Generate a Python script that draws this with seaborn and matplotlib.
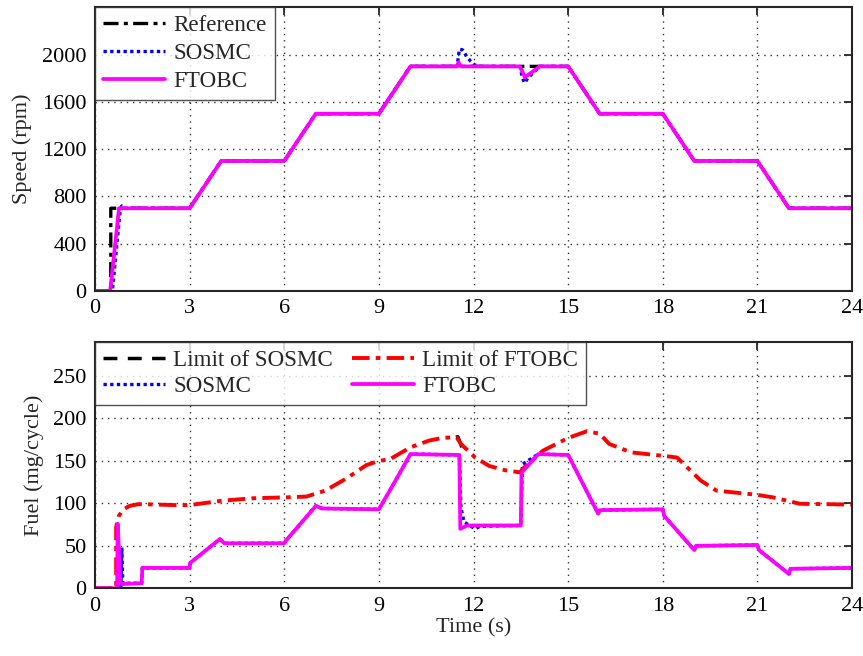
import numpy as np
import pandas as pd
import matplotlib
matplotlib.use("Agg")
import matplotlib.pyplot as plt
import seaborn as sns

# ---------------- data ----------------
ref_t = [0, 0.5, 0.5, 3, 4, 6, 7, 9, 10, 15, 16, 18, 19, 21, 22, 24]
ref_v = [0, 0, 700, 700, 1100, 1100, 1500, 1500, 1900, 1900, 1500, 1500, 1100, 1100, 700, 700]

sos_t = [0, 0.55, 0.8, 0.85, 0.95, 3, 4, 6, 7, 9, 10, 11.48, 11.55, 11.65, 11.78, 11.91,
         12.02, 12.15, 13.47, 13.55, 13.62, 13.72, 14.1, 15, 16, 18, 19, 21, 22, 24]
sos_v = [0, 0, 690, 720, 700, 700, 1100, 1100, 1500, 1500, 1900, 1900, 2045, 2040, 1985, 1943,
         1915, 1900, 1900, 1803, 1760, 1800, 1900, 1900, 1500, 1500, 1100, 1100, 700, 700]

ft_t = [0, 0.48, 0.76, 3, 4, 6, 7, 9, 10, 11.48, 11.52, 11.6, 13.47, 13.63, 14.1, 15,
        16, 18, 19, 21, 22, 24]
ft_v = [0, 0, 700, 700, 1100, 1100, 1500, 1500, 1900, 1900, 1935, 1900, 1900, 1808, 1900, 1900,
        1500, 1500, 1100, 1100, 700, 700]

limF_t = [0, 0.67, 0.67, 0.75, 0.9, 1.1, 1.36, 1.6, 2.5, 3.0, 4.0, 5.0, 6.0, 6.7, 7.3, 8.0,
          8.6, 9.0, 9.35, 10.0, 10.6, 11.0, 11.46, 11.6, 12.05, 12.5, 13.0, 13.47, 13.6,
          14.2, 15.0, 15.6, 16.0, 16.3, 17.0, 18.0, 18.45, 19.2, 19.7, 21.0, 21.5, 22.35, 24]
limF_v = [0, 0, 72, 85, 93, 97, 99, 99, 98, 98, 103, 106, 107, 108, 115, 130,
          145, 150, 152, 166, 174, 177, 178, 170, 154, 144, 139, 136.5, 142,
          162, 177, 185, 182, 170, 160, 156, 154, 127, 115, 110, 107, 99.5, 98.6]

# only the visible part of the SOSMC limit (elsewhere hidden under the FTOBC limit)
limS_t = [11.44, 11.5, 11.56, 11.63]
limS_v = [178, 178.5, 173, 166]

fuS_t = [0, 0.82, 0.85, 0.88, 1.48, 1.5, 3.0, 3.02, 3.96, 4.1, 6.0, 6.05, 7.0, 7.2, 9.0, 9.5,
         10.0, 11.55, 11.6, 11.7, 12.05, 12.2, 13.5, 13.55, 14.05, 15.0, 15.95, 16.0, 18.0,
         18.05, 19.0, 19.05, 21.0, 21.05, 22.0, 22.05, 24.0]
fuS_v = [0, 0, 48, 6, 6, 24, 24, 30, 58, 53, 53, 56, 97, 94, 93, 125,
         158, 157, 95, 78, 70, 73, 74, 146, 158, 157, 88, 92, 93,
         85, 45, 50, 51, 45, 17, 23, 24]

fuF_t = [0, 0.7, 0.72, 0.8, 0.85, 1.48, 1.5, 3.0, 3.02, 3.96, 4.1, 6.0, 6.05, 7.0, 7.2, 9.0,
         9.5, 10.0, 11.55, 11.58, 11.8, 13.5, 13.52, 14.05, 15.0, 15.95, 16.0, 18.0, 18.05,
         19.0, 19.05, 21.0, 21.05, 22.0, 22.05, 24.0]
fuF_v = [0, 0, 76, 8, 5, 6, 24, 24, 30, 58, 53, 53, 56, 97, 94, 93,
         125, 158, 157, 70, 74, 74, 136, 158, 157, 88, 92, 93, 85,
         45, 50, 51, 45, 17, 23, 24]

x_ticks = [0, 3, 6, 9, 12, 15, 18, 21, 24]
speed_ticks = [0, 400, 800, 1200, 1600, 2000]
fuel_ticks = [0, 50, 100, 150, 200, 250]

# ---------------- style ----------------
sns.set_style("white")
plt.rcParams['font.family'] = ['Liberation Serif', 'DejaVu Serif']
FS = 16
LFS = 16.6

fig = plt.figure(figsize=(8.63, 6.56), dpi=100)
ax1 = fig.add_axes([0.1101, 0.5564, 0.8772, 0.4325])
ax2 = fig.add_axes([0.1101, 0.1032, 0.8772, 0.3755])


def draw(ax, t, v, color, ls, lw, label):
    df = pd.DataFrame({"t": t, "v": v})
    sns.lineplot(data=df, x="t", y="v", ax=ax, color=color, linestyle=ls, linewidth=lw,
                 label=label, estimator=None, sort=False)


DASHDOT = (0, (4.5, 1.6, 1.2, 1.6))
draw(ax1, ref_t, ref_v, "black", DASHDOT, 2.4, "Reference")
draw(ax1, sos_t, sos_v, "#0000FF", (0, (1, 1)), 2.4, "SOSMC")
draw(ax1, ft_t, ft_v, "#FF00FF", "-", 2.7, "FTOBC")

draw(ax2, limS_t, limS_v, "black", (0, (4, 3)), 2.5, "Limit of SOSMC")
draw(ax2, fuS_t, fuS_v, "#0000FF", (0, (1, 1)), 2.4, "SOSMC")
draw(ax2, limF_t, limF_v, "#FF0000", DASHDOT, 2.8, "Limit of FTOBC")
draw(ax2, fuF_t, fuF_v, "#FF00FF", "-", 2.7, "FTOBC")

for ax, yt, yl, ylab in [(ax1, speed_ticks, (0, 2400), "Speed (rpm)"),
                         (ax2, fuel_ticks, (0, 290), "Fuel (mg/cycle)")]:
    ax.set_xlim(0, 24)
    ax.set_ylim(*yl)
    ax.set_xticks(x_ticks)
    ax.set_yticks(yt)
    ax.set_xticklabels([str(v) for v in x_ticks], fontsize=FS)
    ax.set_yticklabels([str(v) for v in yt], fontsize=FS)
    ax.set_ylabel(ylab, fontsize=FS, labelpad=7)
    ax.set_xlabel("")
    ax.grid(True, linestyle=(0, (1, 3.5)), color="#333333", linewidth=1.0)
    ax.tick_params(direction="in", length=6, width=1.3, top=True, right=True,
                   colors="#262626", labelcolor="black", pad=6)
    for s in ax.spines.values():
        s.set_linewidth(1.5)
        s.set_color("#262626")

ax2.set_xlabel("Time (s)", fontsize=FS, labelpad=2)

leg1 = ax1.legend(loc="upper left", fontsize=LFS, frameon=True, fancybox=False,
                  edgecolor="#262626", borderaxespad=0, handlelength=2.7,
                  labelspacing=0.28, borderpad=0.35, handletextpad=0.35)
leg1.get_frame().set_linewidth(1.0)

leg2 = ax2.legend(loc="upper left", ncol=2, fontsize=LFS, frameon=True, fancybox=False,
                  edgecolor="#262626", borderaxespad=0, handlelength=2.7,
                  labelspacing=0.2, borderpad=0.35, handletextpad=0.35, columnspacing=0.8)
leg2.get_frame().set_linewidth(1.0)

fig.savefig("out.png", dpi=100)
